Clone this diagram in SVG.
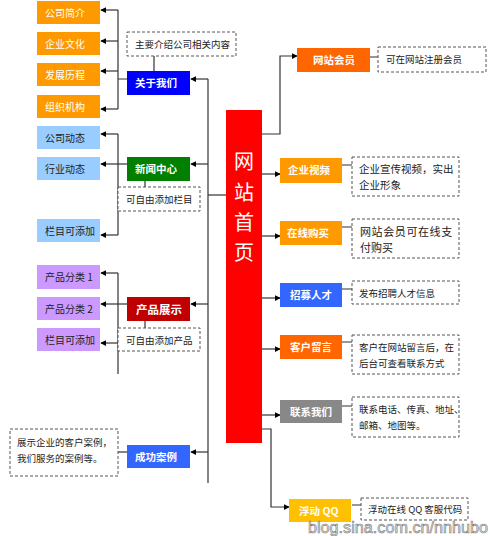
<svg xmlns="http://www.w3.org/2000/svg" width="490" height="536" viewBox="0 0 490 536">
<defs>
<marker id="ah" viewBox="0 0 8 8" refX="7" refY="4" markerWidth="6" markerHeight="6" markerUnits="userSpaceOnUse" orient="auto">
<path d="M0,0 L8,4 L0,8 Z" fill="#000"/>
</marker>
<style>
text{font-family:"Noto Sans CJK SC","Liberation Sans",sans-serif;}
.w{fill:#fff;font-size:10px;}
.wb{fill:#fff;font-size:10.5px;font-weight:bold;}
.k{fill:#222;font-size:10px;}
.d{fill:#222;font-size:9.5px;}
.dash{fill:#fff;stroke:#555;stroke-width:1;stroke-dasharray:3,2;}
.c{fill:none;stroke:#333;stroke-width:1.2;}
.ca{fill:none;stroke:#333;stroke-width:1.2;marker-end:url(#ah);}
</style>
</defs>
<rect width="490" height="536" fill="#fff"/>

<g id="connectors">
<path class="c" d="M208,79 V483"/>
<path class="ca" d="M208,79 H191"/>
<path class="ca" d="M208,164 H191"/>
<path class="ca" d="M208,304 H191"/>
<path class="ca" d="M208,452 H191"/>
<path class="c" d="M208,195 H226"/>
<path class="c" d="M118,10 V109 M127,79 H118"/>
<path class="ca" d="M118,10 H101"/>
<path class="ca" d="M118,41 H101"/>
<path class="ca" d="M118,71 H101"/>
<path class="ca" d="M118,109 H101"/>
<path class="c" d="M154,56 V71"/>
<path class="c" d="M118,134 V235"/>
<path class="ca" d="M118,134 H101"/>
<path class="ca" d="M127,164 H101"/>
<path class="ca" d="M118,235 H101"/>
<path class="c" d="M145,181 V187"/>
<path class="c" d="M118,273 V374"/>
<path class="ca" d="M118,273 H101"/>
<path class="ca" d="M127,304 H101"/>
<path class="ca" d="M118,343 H101"/>
<path class="c" d="M145,321 V328"/>
<path class="c" d="M118,452 H127"/>
<path class="ca" d="M262,134 H280 V56 H297"/>
<path class="ca" d="M262,174 H280"/>
<path class="ca" d="M262,236 H280"/>
<path class="ca" d="M262,298 H280"/>
<path class="ca" d="M262,349 H280"/>
<path class="ca" d="M262,415 H280"/>
<path class="ca" d="M262,429 H271 V507 H289"/>
<path class="c" d="M370,57 H378 M342,165 H352 M342,227 H352 M342,289 H352 M342,342 H352 M342,406 H352 M352,505 H361"/>
</g>

<g id="left-about">
<g id="gsjj"><rect x="37" y="1" width="63" height="23" fill="#FF9900"/><text class="w" x="45" y="16.5">公司简介</text></g>
<g id="qywh"><rect x="37" y="32" width="63" height="23" fill="#FF9900"/><text class="w" x="45" y="47.5">企业文化</text></g>
<g id="fzlc"><rect x="37" y="63" width="63" height="23" fill="#FF9900"/><text class="w" x="45" y="78.5">发展历程</text></g>
<g id="zzjg"><rect x="37" y="95" width="63" height="23" fill="#FF9900"/><text class="w" x="45" y="110.5">组织机构</text></g>
</g>
<g id="left-news">
<g id="gsdt"><rect x="37" y="126" width="63" height="23" fill="#99CCFF"/><text class="k" x="45" y="141.5">公司动态</text></g>
<g id="hydt"><rect x="37" y="157" width="63" height="23" fill="#99CCFF"/><text class="k" x="45" y="172.5">行业动态</text></g>
<g id="lmktj1"><rect x="37" y="219" width="63" height="23" fill="#99CCFF"/><text class="k" x="45" y="234.5">栏目可添加</text></g>
</g>
<g id="left-product">
<g id="cpfl1"><rect x="37" y="265" width="63" height="24" fill="#CC99FF"/><text class="k" x="45" y="281">产品分类 1</text></g>
<g id="cpfl2"><rect x="37" y="297" width="63" height="23" fill="#CC99FF"/><text class="k" x="45" y="312.5">产品分类 2</text></g>
<g id="lmktj2"><rect x="37" y="328" width="63" height="23" fill="#CC99FF"/><text class="k" x="45" y="343.5">栏目可添加</text></g>
</g>

<g id="gywm"><rect x="127" y="71" width="63" height="24" fill="#0000FF"/><text class="wb" x="135" y="87">关于我们</text></g>
<g id="note-gywm"><rect class="dash" x="127" y="32" width="109" height="24"/><text class="d" x="135" y="48">主要介绍公司相关内容</text></g>
<g id="xwzx"><rect x="127" y="157" width="63" height="24" fill="#007F00"/><text class="wb" x="135" y="173">新闻中心</text></g>
<g id="note-xwzx"><rect class="dash" x="118" y="187" width="82" height="24"/><text class="d" x="126" y="203">可自由添加栏目</text></g>
<g id="cpzs"><rect x="127" y="297" width="63" height="24" fill="#C00000"/><text class="wb" x="136" y="313.5" style="font-size:11.5px">产品展示</text></g>
<g id="note-cpzs"><rect class="dash" x="118" y="328" width="82" height="23"/><text class="d" x="126" y="343.5">可自由添加产品</text></g>
<g id="cgal"><rect x="127" y="445" width="63" height="23" fill="#3366FF"/><text class="wb" x="135" y="460.5">成功案例</text></g>
<g id="note-cgal"><rect class="dash" x="10" y="429" width="108" height="47"/><text class="d" x="17" y="446">展示企业的客户案例，</text><text class="d" x="17" y="462">我们服务的案例等。</text></g>

<g id="home"><rect x="226" y="110" width="36" height="333" fill="#FF0000"/>
<text x="244" y="169" fill="#fff" font-size="20" text-anchor="middle">网</text>
<text x="244" y="200" fill="#fff" font-size="20" text-anchor="middle">站</text>
<text x="244" y="230" fill="#fff" font-size="20" text-anchor="middle">首</text>
<text x="244" y="260" fill="#fff" font-size="20" text-anchor="middle">页</text>
</g>

<g id="wzhy"><rect x="297" y="48" width="73" height="24" fill="#FF6600"/><text class="wb" x="313" y="64">网站会员</text></g>
<g id="note-wzhy"><rect class="dash" x="378" y="47" width="108" height="25"/><text class="d" x="386" y="63">可在网站注册会员</text></g>
<g id="qysp"><rect x="280" y="158" width="62" height="25" fill="#FF9900"/><text class="wb" x="288" y="174">企业视频</text></g>
<g id="note-qysp"><rect class="dash" x="352" y="157" width="107" height="39"/><text class="k" x="359" y="173" style="font-size:10.5px">企业宣传视频，实出</text><text class="k" x="359" y="189" style="font-size:10.5px">企业形象</text></g>
<g id="zxgm"><rect x="280" y="221" width="62" height="24" fill="#FF9900"/><text class="wb" x="287" y="237">在线购买</text></g>
<g id="note-zxgm"><rect class="dash" x="352" y="219" width="107" height="39"/><text class="k" x="360" y="236" style="font-size:11px;letter-spacing:0.6px">网站会员可在线支</text><text class="k" x="360" y="252" style="font-size:11px">付购买</text></g>
<g id="zmrc"><rect x="280" y="283" width="62" height="24" fill="#3366FF"/><text class="wb" x="290" y="299">招募人才</text></g>
<g id="note-zmrc"><rect class="dash" x="352" y="281" width="107" height="23"/><text class="d" x="359" y="296.5">发布招聘人才信息</text></g>
<g id="khly"><rect x="280" y="335" width="62" height="24" fill="#FF6600"/><text class="wb" x="290" y="351">客户留言</text></g>
<g id="note-khly"><rect class="dash" x="352" y="335" width="107" height="39"/><text class="d" x="359" y="351">客户在网站留言后，在</text><text class="d" x="359" y="367">后台可查看联系方式</text></g>
<g id="lxwm"><rect x="280" y="400" width="62" height="23" fill="#888888"/><text class="wb" x="290" y="415.5">联系我们</text></g>
<g id="note-lxwm"><rect class="dash" x="352" y="397" width="107" height="40"/><text class="d" x="359" y="413">联系电话、传真、地址、</text><text class="d" x="359" y="429">邮箱、地图等。</text></g>
<g id="fdqq"><rect x="289" y="499" width="62" height="23" fill="#FFC000"/><text class="wb" x="299" y="514.5">浮动 QQ</text></g>
<g id="note-fdqq"><rect class="dash" x="361" y="498" width="107" height="22"/><text class="d" x="368" y="513">浮动在线 QQ 客服代码</text></g>

<text x="308" y="533" font-size="16" textLength="180" lengthAdjust="spacingAndGlyphs" fill="#e8e8e8" stroke="#7a7a7a" stroke-width="0.6" style="font-family:'Liberation Sans',sans-serif">blog.sina.com.cn/nnhubo</text>
</svg>
